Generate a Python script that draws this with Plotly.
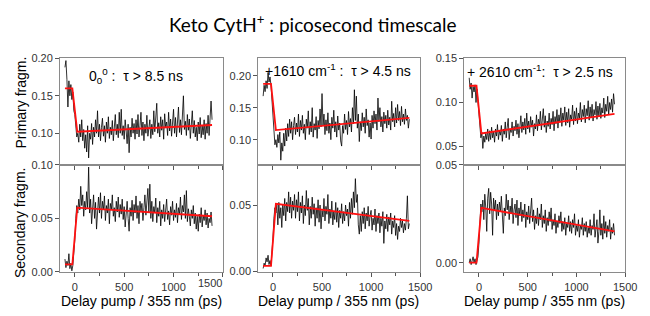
import plotly.graph_objects as go

# Delay grid (ps)
delay = list(range(-100, 1400, 10))

# ---- Panel 1 (0_0^0) ----
p1_primary = [0.188, 0.197, 0.172, 0.135, 0.170, 0.150, 0.165, 0.145, 0.155, 0.130,
              0.125, 0.112, 0.095, 0.100, 0.088, 0.112, 0.095, 0.118, 0.090, 0.105,
              0.080, 0.098, 0.075, 0.110, 0.067, 0.100, 0.092, 0.113, 0.085, 0.108,
              0.095, 0.118, 0.100, 0.130, 0.095, 0.112, 0.090, 0.108, 0.120, 0.096,
              0.110, 0.088, 0.115, 0.100, 0.122, 0.093, 0.108, 0.098, 0.117, 0.090,
              0.105, 0.125, 0.098, 0.112, 0.094, 0.128, 0.100, 0.132, 0.097, 0.110,
              0.092, 0.118, 0.103, 0.086, 0.112, 0.074, 0.108, 0.095, 0.120, 0.100,
              0.113, 0.092, 0.118, 0.099, 0.125, 0.095, 0.110, 0.128, 0.097, 0.115,
              0.090, 0.112, 0.100, 0.124, 0.096, 0.108, 0.118, 0.093, 0.112, 0.098,
              0.130, 0.102, 0.117, 0.140, 0.100, 0.114, 0.095, 0.122, 0.104, 0.118,
              0.092, 0.126, 0.108, 0.115, 0.097, 0.128, 0.103, 0.119, 0.096, 0.113,
              0.132, 0.100, 0.121, 0.095, 0.110, 0.135, 0.101, 0.118, 0.098, 0.127,
              0.150, 0.105, 0.116, 0.097, 0.125, 0.104, 0.119, 0.093, 0.112, 0.130,
              0.100, 0.117, 0.095, 0.108, 0.090, 0.115, 0.099, 0.121, 0.094, 0.110,
              0.098, 0.118, 0.092, 0.113, 0.100, 0.124, 0.097, 0.115, 0.143, 0.118]
p1_secondary = [0.012, 0.004, 0.010, 0.006, 0.017, 0.003, 0.008, 0.001, 0.006, 0.015,
                0.030, 0.050, 0.062, 0.055, 0.068, 0.058, 0.080, 0.062, 0.072, 0.052,
                0.066, 0.058, 0.075, 0.060, 0.098, 0.055, 0.068, 0.045, 0.063, 0.072,
                0.050, 0.065, 0.040, 0.062, 0.070, 0.055, 0.074, 0.050, 0.066, 0.058,
                0.071, 0.048, 0.062, 0.055, 0.068, 0.045, 0.064, 0.058, 0.072, 0.052,
                0.060, 0.047, 0.066, 0.056, 0.070, 0.051, 0.063, 0.054, 0.068, 0.049,
                0.061, 0.042, 0.058, 0.066, 0.050, 0.038, 0.060, 0.052, 0.067, 0.048,
                0.063, 0.055, 0.071, 0.050, 0.062, 0.045, 0.066, 0.057, 0.064, 0.048,
                0.060, 0.072, 0.053, 0.064, 0.078, 0.056, 0.082, 0.050, 0.066, 0.047,
                0.061, 0.055, 0.069, 0.046, 0.060, 0.052, 0.066, 0.043, 0.058, 0.050,
                0.063, 0.047, 0.059, 0.068, 0.049, 0.057, 0.044, 0.061, 0.053, 0.066,
                0.048, 0.058, 0.051, 0.064, 0.046, 0.060, 0.054, 0.070, 0.049, 0.062,
                0.056, 0.072, 0.050, 0.076, 0.047, 0.059, 0.052, 0.043, 0.058, 0.050,
                0.062, 0.045, 0.055, 0.040, 0.052, 0.038, 0.054, 0.046, 0.060, 0.042,
                0.053, 0.048, 0.058, 0.044, 0.055, 0.041, 0.050, 0.046, 0.056, 0.043]
p1_fit_x = [-100, -25, 25, 1390]
p1_fit_primary = [0.160, 0.160, 0.102, 0.111]
p1_fit_secondary = [0.007, 0.007, 0.060, 0.052]

# ---- Panel 2 (+1610 cm-1) ----
p2_primary = [0.168, 0.185, 0.175, 0.192, 0.180, 0.205, 0.190, 0.198, 0.185, 0.160,
              0.135, 0.110, 0.092, 0.100, 0.088, 0.108, 0.095, 0.112, 0.068, 0.095,
              0.082, 0.110, 0.090, 0.118, 0.098, 0.125, 0.105, 0.132, 0.110, 0.128,
              0.100, 0.122, 0.135, 0.108, 0.126, 0.112, 0.140, 0.105, 0.130, 0.115,
              0.138, 0.110, 0.124, 0.100, 0.132, 0.118, 0.145, 0.108, 0.128, 0.112,
              0.150, 0.104, 0.125, 0.115, 0.136, 0.102, 0.130, 0.117, 0.148, 0.120,
              0.172, 0.122, 0.140, 0.108, 0.131, 0.114, 0.142, 0.110, 0.126, 0.100,
              0.135, 0.118, 0.146, 0.112, 0.128, 0.104, 0.137, 0.115, 0.126, 0.098,
              0.090, 0.122, 0.110, 0.140, 0.116, 0.130, 0.108, 0.144, 0.120, 0.133,
              0.112, 0.150, 0.125, 0.178, 0.130, 0.168, 0.118, 0.140, 0.097, 0.128,
              0.114, 0.142, 0.120, 0.135, 0.110, 0.148, 0.122, 0.131, 0.104, 0.126,
              0.101, 0.138, 0.118, 0.145, 0.125, 0.140, 0.115, 0.165, 0.128, 0.150,
              0.120, 0.136, 0.112, 0.143, 0.125, 0.138, 0.118, 0.146, 0.123, 0.135,
              0.115, 0.160, 0.128, 0.141, 0.120, 0.150, 0.126, 0.155, 0.130, 0.144,
              0.122, 0.152, 0.128, 0.140, 0.124, 0.148, 0.130, 0.138, 0.118, 0.132]
p2_secondary = [0.002, 0.006, 0.004, 0.010, 0.007, 0.012, 0.005, 0.008, 0.004, 0.012,
                0.025, 0.040, 0.048, 0.044, 0.050, 0.035, 0.052, 0.040, 0.048, 0.033,
                0.050, 0.042, 0.055, 0.038, 0.052, 0.045, 0.060, 0.044, 0.056, 0.040,
                0.053, 0.046, 0.058, 0.040, 0.054, 0.045, 0.060, 0.038, 0.052, 0.044,
                0.057, 0.036, 0.050, 0.042, 0.061, 0.046, 0.055, 0.035, 0.049, 0.040,
                0.056, 0.043, 0.051, 0.034, 0.048, 0.040, 0.054, 0.037, 0.050, 0.032,
                0.046, 0.041, 0.055, 0.038, 0.049, 0.043, 0.058, 0.036, 0.047, 0.040,
                0.053, 0.035, 0.045, 0.039, 0.052, 0.037, 0.048, 0.033, 0.046, 0.040,
                0.051, 0.036, 0.045, 0.038, 0.050, 0.042, 0.047, 0.034, 0.052, 0.040,
                0.055, 0.043, 0.060, 0.048, 0.070, 0.052, 0.058, 0.035, 0.028, 0.042,
                0.030, 0.045, 0.036, 0.048, 0.032, 0.044, 0.038, 0.049, 0.034, 0.042,
                0.046, 0.031, 0.040, 0.035, 0.047, 0.030, 0.042, 0.036, 0.044, 0.029,
                0.040, 0.034, 0.045, 0.021, 0.038, 0.032, 0.043, 0.030, 0.041, 0.035,
                0.044, 0.028, 0.038, 0.033, 0.042, 0.027, 0.036, 0.024, 0.034, 0.030,
                0.040, 0.033, 0.038, 0.029, 0.036, 0.031, 0.040, 0.057, 0.032, 0.036]
p2_fit_x = [-100, -20, 30, 1390]
p2_fit_primary = [0.187, 0.187, 0.115, 0.134]
p2_fit_secondary = [0.004, 0.004, 0.051, 0.038]

# ---- Panel 3 (+2610 cm-1) ----
p3_primary = [0.128, 0.115, 0.122, 0.105, 0.118, 0.112, 0.120, 0.100, 0.115, 0.098,
              0.088, 0.072, 0.060, 0.066, 0.048, 0.062, 0.055, 0.065, 0.058, 0.070,
              0.056, 0.068, 0.058, 0.072, 0.060, 0.067, 0.055, 0.070, 0.062, 0.075,
              0.058, 0.068, 0.063, 0.074, 0.056, 0.070, 0.064, 0.078, 0.060, 0.072,
              0.082, 0.058, 0.070, 0.066, 0.078, 0.062, 0.073, 0.068, 0.080, 0.064,
              0.076, 0.060, 0.072, 0.085, 0.066, 0.078, 0.069, 0.082, 0.064, 0.088,
              0.070, 0.079, 0.066, 0.084, 0.072, 0.080, 0.062, 0.076, 0.070, 0.086,
              0.068, 0.081, 0.074, 0.090, 0.069, 0.078, 0.093, 0.072, 0.085, 0.066,
              0.079, 0.073, 0.088, 0.070, 0.082, 0.075, 0.090, 0.068, 0.084, 0.076,
              0.092, 0.071, 0.086, 0.078, 0.094, 0.073, 0.088, 0.080, 0.095, 0.074,
              0.089, 0.077, 0.093, 0.072, 0.086, 0.081, 0.097, 0.075, 0.090, 0.079,
              0.094, 0.076, 0.088, 0.082, 0.100, 0.078, 0.092, 0.084, 0.097, 0.077,
              0.093, 0.085, 0.102, 0.080, 0.095, 0.083, 0.098, 0.079, 0.092, 0.086,
              0.101, 0.081, 0.096, 0.084, 0.099, 0.082, 0.094, 0.088, 0.105, 0.083,
              0.098, 0.090, 0.107, 0.086, 0.100, 0.092, 0.104, 0.089, 0.110, 0.098]
p3_secondary = [0.000, 0.002, -0.001, 0.001, 0.003, 0.000, 0.002, -0.001, 0.001, 0.003,
                0.010, 0.020, 0.030, 0.026, 0.032, 0.022, 0.035, 0.028, 0.016, 0.033,
                0.038, 0.025, 0.036, 0.030, 0.014, 0.033, 0.027, 0.032, 0.022, 0.030,
                0.024, 0.031, 0.026, 0.034, 0.020, 0.015, 0.028, 0.024, 0.035, 0.027,
                0.032, 0.022, 0.029, 0.025, 0.033, 0.020, 0.027, 0.030, 0.023, 0.032,
                0.019, 0.028, 0.024, 0.031, 0.021, 0.027, 0.023, 0.030, 0.018, 0.026,
                0.022, 0.029, 0.020, 0.025, 0.033, 0.021, 0.027, 0.017, 0.024, 0.020,
                0.028, 0.019, 0.025, 0.022, 0.030, 0.018, 0.024, 0.020, 0.027, 0.016,
                0.023, 0.019, 0.026, 0.021, 0.028, 0.017, 0.022, 0.019, 0.025, 0.015,
                0.021, 0.018, 0.024, 0.020, 0.026, 0.016, 0.021, 0.017, 0.023, 0.014,
                0.020, 0.018, 0.024, 0.016, 0.021, 0.015, 0.022, 0.018, 0.025, 0.014,
                0.019, 0.016, 0.022, 0.013, 0.019, 0.017, 0.023, 0.014, 0.020, 0.016,
                0.021, 0.013, 0.018, 0.015, 0.022, 0.014, 0.019, 0.017, 0.025, 0.013,
                0.018, 0.022, 0.010, 0.016, 0.027, 0.014, 0.020, 0.012, 0.024, 0.015,
                0.021, 0.013, 0.019, 0.016, 0.022, 0.012, 0.018, 0.015, 0.020, 0.014]
p3_fit_x = [-100, -25, 25, 1390]
p3_fit_primary = [0.119, 0.119, 0.065, 0.087]
p3_fit_secondary = [0.000, 0.000, 0.028, 0.016]

x_ticks = [0, 500, 1000, 1500]
x_ticktext = ["0", "500", "1000", "1500"]

# The page body has an 8 px default margin; lay out in window pixels.
OFF = 8
W, H = 650 - OFF, 316 - OFF
def px(x):
    return (x - OFF) / W
def py(y):
    return 1 - (y - OFF) / H

fig = go.Figure()

panels = [
    (p1_primary, p1_secondary, p1_fit_x, p1_fit_primary, p1_fit_secondary),
    (p2_primary, p2_secondary, p2_fit_x, p2_fit_primary, p2_fit_secondary),
    (p3_primary, p3_secondary, p3_fit_x, p3_fit_primary, p3_fit_secondary),
]
for k, (prim, sec, fx, fp, fs) in enumerate(panels):
    top = k + 1
    bot = k + 4
    for idx, ys, fy in [(top, prim, fp), (bot, sec, fs)]:
        xa = "x" if idx == 1 else f"x{idx}"
        ya = "y" if idx == 1 else f"y{idx}"
        fig.add_trace(go.Scatter(x=delay, y=ys, mode="lines", xaxis=xa, yaxis=ya,
                                 line=dict(color="black", width=0.8), showlegend=False,
                                 hoverinfo="skip"))
        fig.add_trace(go.Scatter(x=fx, y=fy, mode="lines", xaxis=xa, yaxis=ya,
                                 line=dict(color="#ff1010", width=1.8), showlegend=False,
                                 hoverinfo="skip"))

xdoms = [(61, 227), (263, 428), (473, 637)]
ytop = (54, 164.5)
ybot = (164.5, 276)

yranges_top = [[0.0577, 0.2], [0.0606, 0.227], [0.0293, 0.15]]
yranges_bot = [[-0.0005, 0.1], [-0.001, 0.0804], [-0.005, 0.05]]
yticks_top = [[0.10, 0.15, 0.20], [0.10, 0.15, 0.20], [0.05, 0.10, 0.15]]
yticks_bot = [[0.00, 0.05, 0.10], [0.00, 0.05], [0.00, 0.05]]

tickfont = dict(family="Arial, Liberation Sans", size=11, color="#333")
axcommon = dict(showline=True, mirror=True, linecolor="#8a8a8a", linewidth=1,
                ticks="outside", ticklen=4, tickcolor="#555", tickwidth=1,
                showgrid=False, zeroline=False, tickfont=tickfont)

layout = {}
for k in range(3):
    d = [px(xdoms[k][0]), px(xdoms[k][1])]
    for row, idx in [(0, k + 1), (1, k + 4)]:
        xname = "xaxis" if idx == 1 else f"xaxis{idx}"
        yname = "yaxis" if idx == 1 else f"yaxis{idx}"
        yanchor = "y" if idx == 1 else f"y{idx}"
        xanchor = "x" if idx == 1 else f"x{idx}"
        tv = list(x_ticks)
        tt = list(x_ticktext)
        if row == 1 and k == 0:
            tv = tv[:-1]
            tt = tt[:-1]
        layout[xname] = dict(domain=d, anchor=yanchor, range=[-150, 1500],
                             tickmode="array", tickvals=tv,
                             ticktext=tt, showticklabels=(row == 1),
                             minor=dict(tickvals=[250, 750, 1250, 1500] if (row == 1 and k == 0) else [250, 750, 1250],
                                        ticks="outside", ticklen=3, tickcolor="#555"),
                             **axcommon)
        if row == 0:
            yd = [py(ytop[1]), py(ytop[0])]
            yr = yranges_top[k]
            yt = yticks_top[k]
        else:
            yd = [py(ybot[1]), py(ybot[0])]
            yr = yranges_bot[k]
            yt = yticks_bot[k]
        layout[yname] = dict(domain=yd, anchor=xanchor, range=yr,
                             tickmode="array", tickvals=yt,
                             ticktext=[f"{v:.2f}" for v in yt],
                             **axcommon)

# Extra overlay axis for the left-shifted "1500" label of panel 1
layout["xaxis7"] = dict(domain=[px(xdoms[0][0]), px(xdoms[0][1])], anchor="y4",
                        overlaying="x4", range=[-150, 1500], side="bottom",
                        tickmode="array", tickvals=[1500], ticktext=["1500"],
                        ticklabelposition="outside left", ticks="outside",
                        ticklen=4, tickcolor="#555", showline=False,
                        showgrid=False, zeroline=False, tickfont=tickfont)
fig.add_trace(go.Scatter(x=[1500], y=[0.05], xaxis="x7", yaxis="y4", mode="markers",
                         marker=dict(opacity=0), showlegend=False, hoverinfo="skip"))

fig.update_layout(**layout)

ann_font = dict(family="Arial, Liberation Sans", size=14, color="black")
annotations = [
    dict(text="Keto CytH<sup>+</sup> : picosecond timescale", x=px(318), y=py(18),
         xanchor="center", yanchor="middle",
         font=dict(family="Lato, Open Sans", size=19, color="black")),
    dict(text="0<sub>0</sub><sup>0</sup> :&nbsp; τ > 8.5 ns", x=px(89), y=py(72),
         xanchor="left", yanchor="middle", font=ann_font),
    dict(text="+1610 cm<sup>-1</sup> :&nbsp; τ > 4.5 ns", x=px(268), y=py(66),
         xanchor="left", yanchor="middle", font=ann_font),
    dict(text="+ 2610 cm<sup>-1</sup>:&nbsp; τ > 2.5 ns", x=px(474), y=py(67),
         xanchor="left", yanchor="middle", font=ann_font),
    dict(text="Primary fragm.", x=px(21), y=py(100), textangle=-90,
         xanchor="center", yanchor="middle", font=ann_font),
    dict(text="Secondary fragm.", x=px(21), y=py(224), textangle=-90,
         xanchor="center", yanchor="middle", font=ann_font),
]
for cx in (144, 345, 555):
    annotations.append(dict(text="Delay pump / 355 nm (ps)", x=px(cx), y=py(306),
                            xanchor="center", yanchor="middle", font=ann_font))
for a in annotations:
    a.update(xref="paper", yref="paper", showarrow=False)

fig.update_layout(width=W, height=H, margin=dict(l=0, r=0, t=0, b=0),
                  paper_bgcolor="white", plot_bgcolor="white",
                  annotations=annotations)

fig.write_html("out.html")
